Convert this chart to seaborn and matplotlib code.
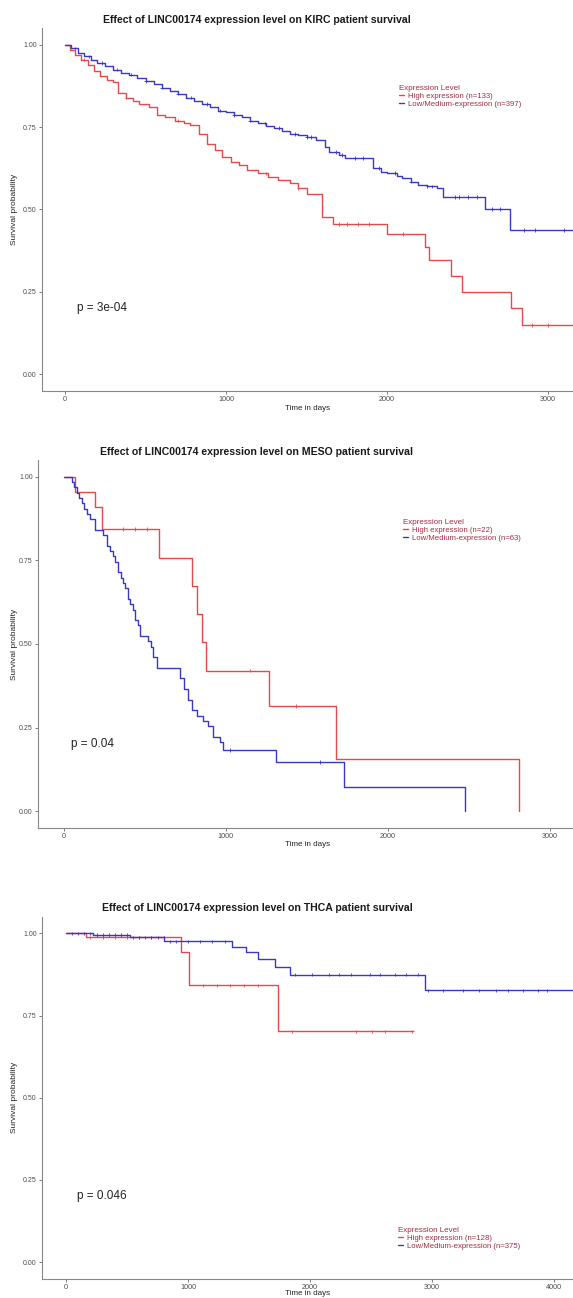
import numpy as np
import pandas as pd
import matplotlib
matplotlib.use("Agg")
import matplotlib.pyplot as plt
from matplotlib.lines import Line2D
import seaborn as sns

# ---- data ----
KIRC_HIGH_T = [0, 30, 60, 100, 140, 180, 220, 260, 300, 329, 380, 420, 460, 520, 571, 620, 680,
               740, 776, 830, 880, 930, 975, 1030, 1080, 1130, 1200, 1260, 1320, 1398, 1450,
               1503, 1596, 1665, 2000, 2236, 2261, 2398, 2466, 2770, 2839, 3300]
KIRC_HIGH_S = [1.0, 0.985, 0.97, 0.955, 0.94, 0.92, 0.905, 0.895, 0.887, 0.854, 0.84, 0.83, 0.82,
               0.81, 0.787, 0.78, 0.77, 0.763, 0.757, 0.73, 0.70, 0.68, 0.66, 0.645, 0.635, 0.62,
               0.61, 0.60, 0.59, 0.58, 0.565, 0.547, 0.477, 0.456, 0.425, 0.386, 0.347, 0.298,
               0.249, 0.20, 0.149, 0.149]
KIRC_LOW_T = [0, 40, 80, 120, 160, 200, 250, 300, 350, 400, 450, 500, 550, 600, 650, 700, 750,
              800, 850, 900, 950, 1000, 1050, 1100, 1150, 1200, 1250, 1300, 1350, 1400, 1450,
              1500, 1560, 1615, 1640, 1700, 1740, 1913, 1960, 2000, 2060, 2093, 2150, 2193,
              2250, 2311, 2348, 2609, 2764, 3300]
KIRC_LOW_S = [1.0, 0.99, 0.975, 0.965, 0.955, 0.945, 0.935, 0.925, 0.915, 0.91, 0.90, 0.89,
              0.88, 0.87, 0.86, 0.852, 0.84, 0.83, 0.82, 0.81, 0.80, 0.795, 0.787, 0.78, 0.77,
              0.762, 0.755, 0.748, 0.74, 0.73, 0.726, 0.72, 0.712, 0.69, 0.675, 0.665, 0.656,
              0.626, 0.615, 0.611, 0.603, 0.596, 0.585, 0.574, 0.57, 0.565, 0.538, 0.502,
              0.438, 0.438]
KIRC_HIGH_CENS = [120, 380, 700, 1250, 1450, 1700, 1750, 1820, 1890, 2100, 2900, 3000]
KIRC_LOW_CENS = [60, 150, 230, 320, 410, 500, 600, 700, 780, 880, 960, 1050, 1150, 1240, 1330,
                 1430, 1500, 1530, 1680, 1720, 1800, 1850, 1950, 2050, 2150, 2250, 2280, 2420,
                 2450, 2500, 2560, 2650, 2700, 2850, 2920, 3100]

MESO_HIGH_T = [0, 68, 191, 235, 586, 790, 821, 852, 877, 1265, 1679, 2809]
MESO_HIGH_S = [1.0, 0.955, 0.909, 0.844, 0.757, 0.673, 0.589, 0.505, 0.42, 0.315, 0.156, 0.0]
MESO_LOW_T = [0, 49, 62, 80, 95, 110, 125, 142, 160, 191, 241, 265, 285, 300, 318, 333, 350,
              365, 380, 395, 410, 425, 438, 455, 469, 519, 535, 550, 574, 716, 740, 765, 790,
              821, 858, 890, 920, 963, 981, 1309, 1728, 2475]
MESO_LOW_S = [1.0, 0.984, 0.968, 0.952, 0.937, 0.921, 0.905, 0.889, 0.873, 0.841, 0.825,
              0.794, 0.778, 0.762, 0.746, 0.714, 0.698, 0.683, 0.667, 0.635, 0.619, 0.603,
              0.571, 0.556, 0.524, 0.508, 0.492, 0.460, 0.429, 0.397, 0.365, 0.333, 0.302,
              0.286, 0.270, 0.254, 0.222, 0.206, 0.183, 0.147, 0.073, 0.0]
MESO_HIGH_CENS = [364, 438, 512, 1148, 1432]
MESO_LOW_CENS = [1025, 1580]

THCA_HIGH_T = [0, 164, 943, 1008, 1738, 2844]
THCA_HIGH_S = [1.0, 0.988, 0.942, 0.842, 0.702, 0.702]
THCA_LOW_T = [0, 221, 525, 803, 1361, 1475, 1574, 1713, 1836, 2943, 4400]
THCA_LOW_S = [1.0, 0.995, 0.988, 0.976, 0.96, 0.942, 0.921, 0.897, 0.875, 0.827, 0.827]
THCA_HIGH_CENS = [200, 300, 400, 500, 600, 700, 800, 1123, 1238, 1344, 1459, 1574,
                  1852, 2377, 2508, 2615, 2836]
THCA_LOW_CENS = [50, 100, 150, 200, 250, 300, 350, 400, 450, 500, 550, 600, 650, 700, 750,
                 800, 850, 900, 1000, 1100, 1200, 1300, 1877, 2016, 2156, 2238, 2336, 2492,
                 2574, 2697, 2787, 2885, 2967, 3090, 3254, 3385, 3525, 3623, 3746, 3869, 3943]

CANCERS = ["KIRC", "MESO", "THCA"]
N_HIGH = [133, 22, 128]
N_LOW = [397, 63, 375]
P_VALUES = ["p = 3e-04", "p = 0.04", "p = 0.046"]

RED = "#E24A4E"
BLUE = "#3838C4"
LEG_COLOR = "#A22E42"

W, H = 573, 1298


def rect(left, top, right, bottom):
    return [left / W, 1 - bottom / H, (right - left) / W, (bottom - top) / H]


def step_value(times, surv, t):
    idx = np.searchsorted(times, t, side="right") - 1
    return np.asarray(surv)[idx]


sns.set_theme(style="white")
plt.rcParams["font.family"] = ["Liberation Sans", "DejaVu Sans"]

fig = plt.figure(figsize=(W / 100, H / 100), dpi=100)

# layout per panel: axes rect (px), xlim, xticks, title y, pval x, legend anchor
panels = [
    dict(high=(KIRC_HIGH_T, KIRC_HIGH_S, KIRC_HIGH_CENS), low=(KIRC_LOW_T, KIRC_LOW_S, KIRC_LOW_CENS),
         box=(42, 28.5, 573, 390.5), xlim=(-143, 3155), xticks=[0, 1000, 2000, 3000],
         title_y=20, pval_x=75, leg=(399, 85), xlab_y=408),
    dict(high=(MESO_HIGH_T, MESO_HIGH_S, MESO_HIGH_CENS), low=(MESO_LOW_T, MESO_LOW_S, MESO_LOW_CENS),
         box=(38, 460, 573, 828), xlim=(-160, 3142), xticks=[0, 1000, 2000, 3000],
         title_y=452, pval_x=43, leg=(403, 519), xlab_y=845),
    dict(high=(THCA_HIGH_T, THCA_HIGH_S, THCA_HIGH_CENS), low=(THCA_LOW_T, THCA_LOW_S, THCA_LOW_CENS),
         box=(42, 917, 573, 1278.5), xlim=(-197, 4156), xticks=[0, 1000, 2000, 3000, 4000],
         title_y=908, pval_x=90, leg=(398, 1227), xlab_y=1293.5),
]

for i, p in enumerate(panels):
    ax = fig.add_axes(rect(*p["box"]))
    hi_label = f"High expression (n={N_HIGH[i]})"
    lo_label = f"Low/Medium-expression (n={N_LOW[i]})"

    curves = pd.concat([
        pd.DataFrame({"time": p["high"][0], "surv": p["high"][1], "group": hi_label}),
        pd.DataFrame({"time": p["low"][0], "surv": p["low"][1], "group": lo_label}),
    ])
    sns.lineplot(data=curves, x="time", y="surv", hue="group", palette=[RED, BLUE],
                 drawstyle="steps-post", estimator=None, sort=False, lw=1.0,
                 legend=False, ax=ax)

    cens = pd.concat([
        pd.DataFrame({"time": p["high"][2],
                      "surv": step_value(p["high"][0], p["high"][1], p["high"][2]),
                      "group": hi_label}),
        pd.DataFrame({"time": p["low"][2],
                      "surv": step_value(p["low"][0], p["low"][1], p["low"][2]),
                      "group": lo_label}),
    ])
    sns.scatterplot(data=cens, x="time", y="surv", hue="group", palette=[RED, BLUE],
                    marker="+", s=6, linewidth=0.6, legend=False, ax=ax)

    ax.set_xlim(*p["xlim"])
    ax.set_ylim(-0.05, 1.05)
    ax.set_xticks(p["xticks"])
    ax.set_yticks([0, 0.25, 0.5, 0.75, 1.0])
    ax.set_yticklabels(["0.00", "0.25", "0.50", "0.75", "1.00"])
    ax.tick_params(axis="both", which="both", length=2.5, width=0.6, color="#666666",
                   labelcolor="#4d4d4d", pad=1.2, left=True, bottom=True)
    ax.tick_params(axis="y", labelsize=5)
    ax.tick_params(axis="x", labelsize=5.2)
    sns.despine(ax=ax)
    for side in ["left", "bottom"]:
        ax.spines[side].set_color("#888888")
        ax.spines[side].set_linewidth(0.8)
    ax.set_xlabel("")
    ax.set_ylabel("")
    ax.patch.set_alpha(0)

    ax.text(p["pval_x"], 0.2, P_VALUES[i], fontsize=8.5, color="#222222",
            ha="left", va="center")

    fig.text(257 / W, 1 - p["title_y"] / H,
             f"Effect of LINC00174 expression level on {CANCERS[i]} patient survival",
             fontsize=7.6, fontweight="bold", color="#1a1a1a", ha="center", va="center")
    fig.text(308 / W, 1 - p["xlab_y"] / H, "Time in days", fontsize=5.8,
             color="#222222", ha="center", va="center")
    mid = (p["box"][1] + p["box"][3]) / 2
    fig.text(15 / W, 1 - mid / H, "Survival probability", fontsize=6, rotation=90,
             color="#222222", ha="center", va="center")

    handles = [Line2D([], [], color=RED, lw=1.0), Line2D([], [], color=BLUE, lw=1.0)]
    leg = fig.legend(handles, [hi_label, lo_label], title="Expression Level",
                     loc="upper left", bbox_to_anchor=(p["leg"][0] / W, 1 - p["leg"][1] / H),
                     frameon=False, fontsize=5.6, title_fontsize=5.8, handlelength=0.6,
                     handletextpad=0.6, labelspacing=0.05, borderpad=0, borderaxespad=0,
                     alignment="left")
    leg.get_title().set_color(LEG_COLOR)
    for t in leg.get_texts():
        t.set_color(LEG_COLOR)

fig.savefig("out.png", dpi=100)
